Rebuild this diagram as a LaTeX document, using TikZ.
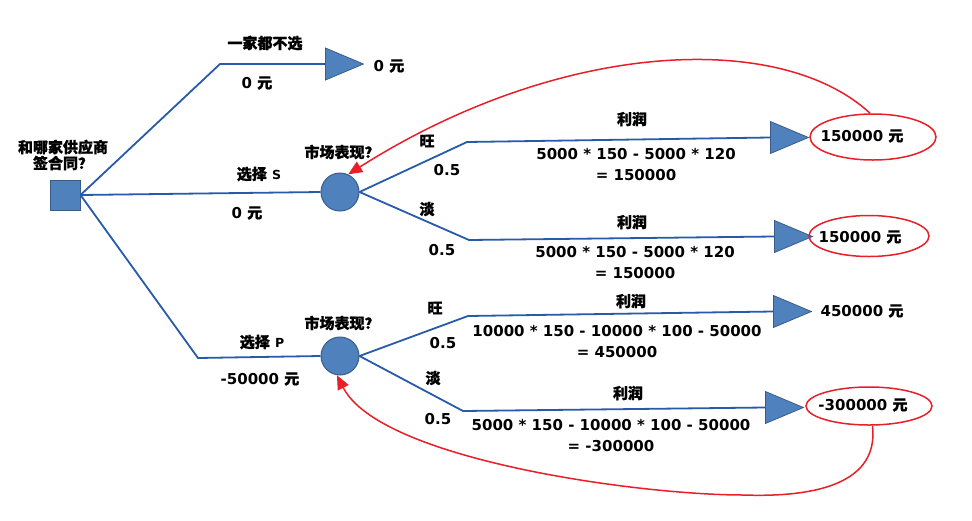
\documentclass[tikz,border=0pt]{standalone}
\usepackage{fontspec}
\setmainfont{DejaVu Sans}
\newfontfamily\cjk[FakeBold=1]{Noto Sans CJK SC}
\usetikzlibrary{shapes.geometric,arrows.meta}
\definecolor{lineblue}{RGB}{40,90,170}
\definecolor{fillblue}{RGB}{79,129,189}
\definecolor{edgeblue}{RGB}{56,93,138}
\definecolor{markred}{RGB}{232,30,40}
\newcommand{\zh}[1]{{\cjk #1}}
\newcommand{\smallcap}[1]{{\fontsize{12.5}{13}\selectfont #1}}
\begin{document}
\begin{tikzpicture}[x=1pt,y=-1pt,
  txt/.style={font=\bfseries\fontsize{15}{21}\selectfont, inner sep=0pt, align=center},
  branch/.style={draw=lineblue, line width=1.8pt, line join=round},
  decision/.style={rectangle, fill=fillblue, draw=edgeblue, line width=1pt, minimum size=30pt, inner sep=0pt},
  chance/.style={circle, fill=fillblue, draw=edgeblue, line width=1pt, minimum size=38pt, inner sep=0pt},
  endtri/.style={isosceles triangle, isosceles triangle stretches, shape border rotate=0, fill=fillblue, draw=edgeblue, line width=0.8pt, minimum width=32pt, minimum height=38pt, inner sep=0pt, anchor=west},
  oval/.style={ellipse, draw=markred, line width=1.5pt, inner sep=0pt},
  backlink/.style={draw=markred, line width=1.5pt, -{Triangle[length=14pt,width=12pt]}}
]
\useasboundingbox (0,0) rectangle (972,520);

% nodes
\node[decision] (sq) at (65,195) {};
\node[chance] (c1) at (340,192) {};
\node[chance] (c2) at (340,356) {};
\node[endtri] (t0) at (325,64) {};
\node[endtri] (t1) at (770,137.5) {};
\node[endtri] (t2) at (774,236.5) {};
\node[endtri] (t3) at (773,311.5) {};
\node[endtri] (t4) at (765,407.5) {};

% bend points
\coordinate (k0) at (220,64);
\coordinate (k2) at (198,358);
\coordinate (k11) at (467,142);
\coordinate (k12) at (469,240);
\coordinate (k21) at (468,316);
\coordinate (k22) at (463,411);

% connectors
\draw[branch] (sq.east) -- (k0) -- (t0.west);
\draw[branch] (sq.east) -- (c1.west);
\draw[branch] (sq.east) -- (k2) -- (c2.west);
\draw[branch] (c1.east) -- (k11) -- (t1.west);
\draw[branch] (c1.east) -- (k12) -- (t2.west);
\draw[branch] (c2.east) -- (k21) -- (t3.west);
\draw[branch] (c2.east) -- (k22) -- (t4.west);

% labels
\node[txt, font=\bfseries\fontsize{15}{16}\selectfont] (q) at (63,155) {\zh{和哪家供应商}\\\zh{签合同？}};
\node[txt] (l0a) at (265,43) {\zh{一家都不选}};
\node[txt] (l0b) at (257,83) {0 \zh{元}};
\node[txt] (v0) at (389,66) {0 \zh{元}};
\node[txt] (lsa) at (259,174) {\zh{选择} \smallcap{S}};
\node[txt] (lsb) at (247,213) {0 \zh{元}};
\node[txt] (m1) at (342,152) {\zh{市场表现？}};
\node[txt] (lpa) at (262,342) {\zh{选择} \smallcap{P}};
\node[txt] (lpb) at (260,379) {-50000 \zh{元}};
\node[txt] (m2) at (342,323) {\zh{市场表现？}};

\node[txt] (w1) at (427,141) {\zh{旺}};
\node[txt] (p1) at (447,170) {0.5};
\node[txt] (r1) at (632,119) {\zh{利润}};
\node[txt] (f1) at (636,165) {5000 * 150 - 5000 * 120\\= 150000};

\node[txt] (d1) at (427,209) {\zh{淡}};
\node[txt] (p2) at (442,250) {0.5};
\node[txt] (r2) at (632,222) {\zh{利润}};
\node[txt] (f2) at (635,263) {5000 * 150 - 5000 * 120\\= 150000};

\node[txt] (w2) at (435,308) {\zh{旺}};
\node[txt] (p3) at (443,343) {0.5};
\node[txt] (r3) at (631,301) {\zh{利润}};
\node[txt] (f3) at (617,342) {10000 * 150 - 10000 * 100 - 50000\\= 450000};

\node[txt] (d2) at (433,378) {\zh{淡}};
\node[txt] (p4) at (438,419) {0.5};
\node[txt] (r4) at (628,393) {\zh{利润}};
\node[txt] (f4) at (611,436) {5000 * 150 - 10000 * 100 - 50000\\= -300000};

% outcome values
\node[oval, minimum width=126pt, minimum height=46pt] (o1) at (873,137) {};
\node[txt] (v1) at (862,136) {150000 \zh{元}};
\node[oval, minimum width=120pt, minimum height=41pt] (o2) at (869,236) {};
\node[txt] (v2) at (860,237) {150000 \zh{元}};
\node[txt] (v3) at (862,311) {450000 \zh{元}};
\node[oval, minimum width=126pt, minimum height=38pt] (o3) at (869,406) {};
\node[txt] (v4) at (863,405) {-300000 \zh{元}};

% back links
\draw[backlink] (o1.97) .. controls (780,30) and (560,40) .. (c1.65);
\draw[backlink] (o3.-80) .. controls (880,490) and (800,497) .. (743,495)
  .. controls (640,495) and (380,460) .. (c2.-99);
\end{tikzpicture}
\end{document}
